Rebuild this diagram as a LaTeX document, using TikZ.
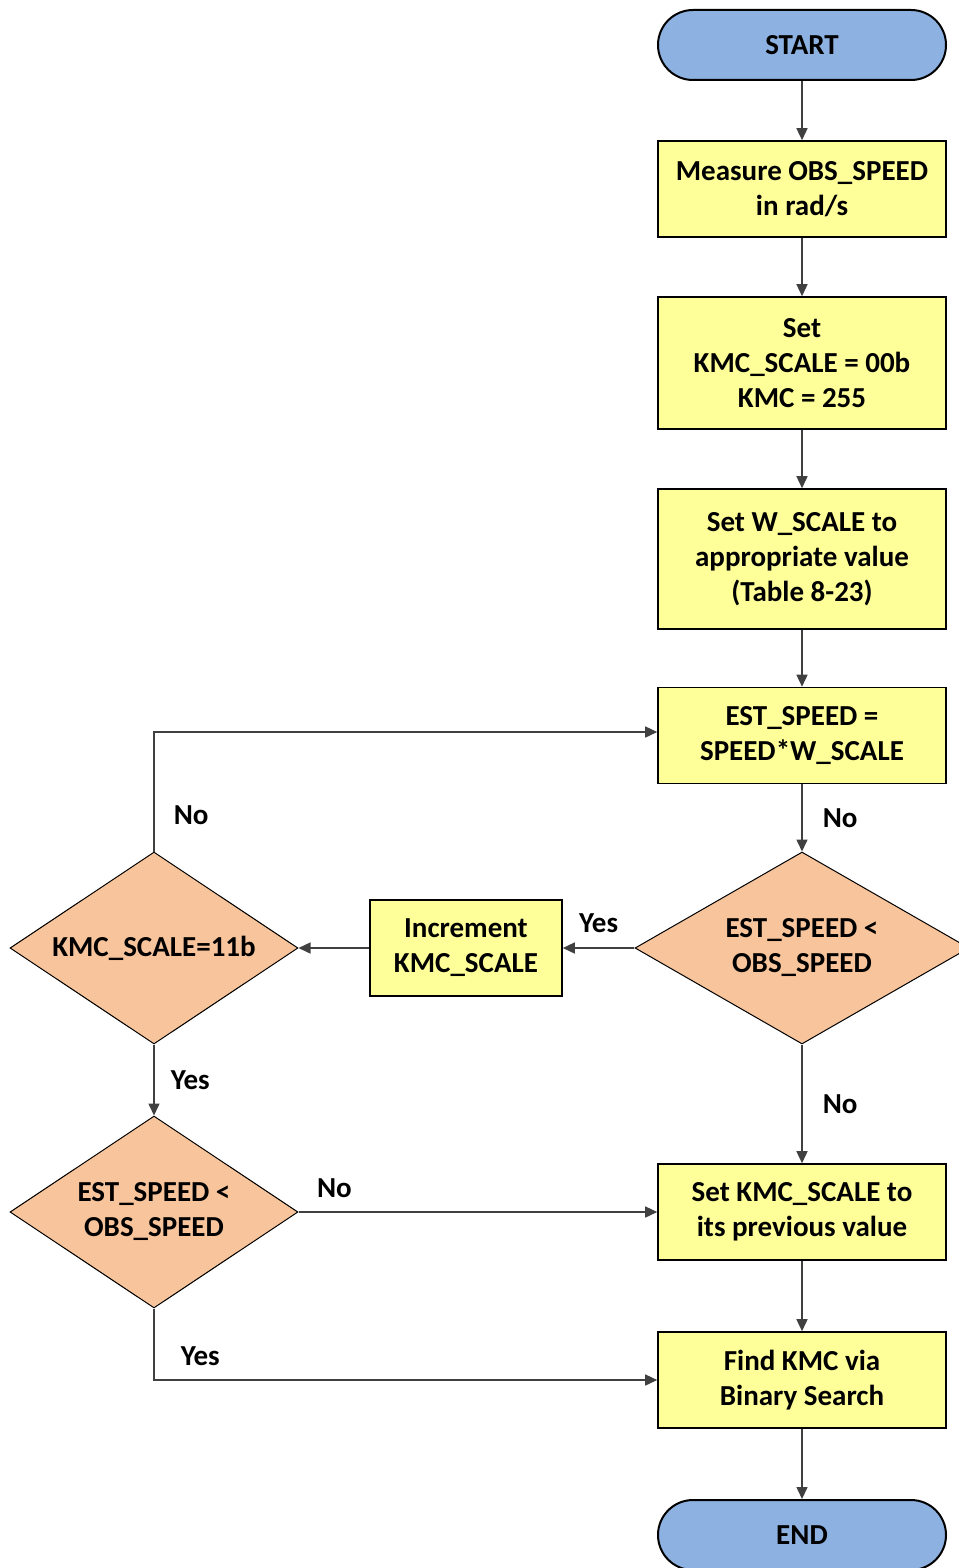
\documentclass[tikz,border=0pt]{standalone}
\usepackage{fontspec}
\setmainfont{Carlito}
\usetikzlibrary{shapes.geometric,arrows.meta}
\definecolor{termblue}{RGB}{141,178,226}
\definecolor{procyellow}{RGB}{255,255,153}
\definecolor{decorange}{RGB}{248,196,155}
\definecolor{linegray}{RGB}{64,64,64}
\tikzset{
  >={Triangle[length=12pt,width=11pt]},
  x=1pt, y=-1pt,
}
\tikzstyle{every node}=[font=\fontsize{29}{35}\selectfont\bfseries]
\tikzstyle{terminal}=[draw,line width=2pt,fill=termblue,rounded corners=35pt,
  minimum width=288pt,minimum height=70pt,inner sep=0pt]
\tikzstyle{process}=[draw,line width=1.6pt,fill=procyellow,align=center,
  minimum width=288pt,minimum height=96pt,inner sep=0pt]
\tikzstyle{decision}=[diamond,draw,line width=1pt,fill=decorange,align=center,
  aspect=1.5,minimum width=288pt,minimum height=192pt,inner sep=0pt]
\tikzstyle{flow}=[line width=1.5pt,draw=linegray,->]
\tikzstyle{lbl}=[inner sep=0pt]

\begin{document}
\begin{tikzpicture}
    \useasboundingbox (0,0) rectangle (958,1568);
    \node[terminal] (start) at (802,45) {START};
    \node[process] (measure) at (802,189) {Measure OBS\_SPEED\\in rad/s};
    \node[process,minimum height=132pt] (setkmc) at (802,363) {Set\\KMC\_SCALE = 00b\\KMC = 255};
    \node[process,minimum height=140pt] (wscale) at (802,559) {Set W\_SCALE to\\appropriate value\\(Table 8-23)};
    \node[process] (est) at (802,735.5) {EST\_SPEED =\\SPEED*W\_SCALE};
    \node[decision,aspect=1.74,minimum width=334pt] (cmpright) at (802,948) {EST\_SPEED <\\OBS\_SPEED};
    \node[process,minimum width=192pt] (incr) at (466,948) {Increment\\KMC\_SCALE};
    \node[decision] (maxscale) at (154,948) {KMC\_SCALE=11b};
    \node[decision] (cmpleft) at (154,1212) {EST\_SPEED <\\OBS\_SPEED};
    \node[process] (prev) at (802,1212) {Set KMC\_SCALE to\\its previous value};
    \node[process] (find) at (802,1380) {Find KMC via\\Binary Search};
    \node[terminal] (end) at (802,1535) {END};

    \draw[flow] (start) -- (measure);
    \draw[flow] (measure) -- (setkmc);
    \draw[flow] (setkmc) -- (wscale);
    \draw[flow] (wscale) -- (est);
    \draw[flow] (est) -- (cmpright) node[lbl,midway,right=20pt]{No};
    \draw[flow] (cmpright) -- (incr) node[lbl,midway,above=15pt]{Yes};
    \draw[flow] (incr) -- (maxscale.east);
    \draw[flow] (maxscale.north) |- ([yshift=3.5pt]est.west) node[lbl,pos=.15,right=19pt]{No};
    \draw[flow] (maxscale) -- (cmpleft) node[lbl,midway,right=16pt]{Yes};
    \draw[flow] (cmpright) -- (prev) node[lbl,midway,right=20pt]{No};
    \draw[flow] (cmpleft.east) -- (prev.west) node[lbl,pos=.1,above=14pt]{No};
    \draw[flow] (cmpleft.south) |- (find.west) node[lbl,pos=.546,above=14pt]{Yes};
    \draw[flow] (prev) -- (find);
    \draw[flow] (find) -- (end);
  \end{tikzpicture}
\end{document}
